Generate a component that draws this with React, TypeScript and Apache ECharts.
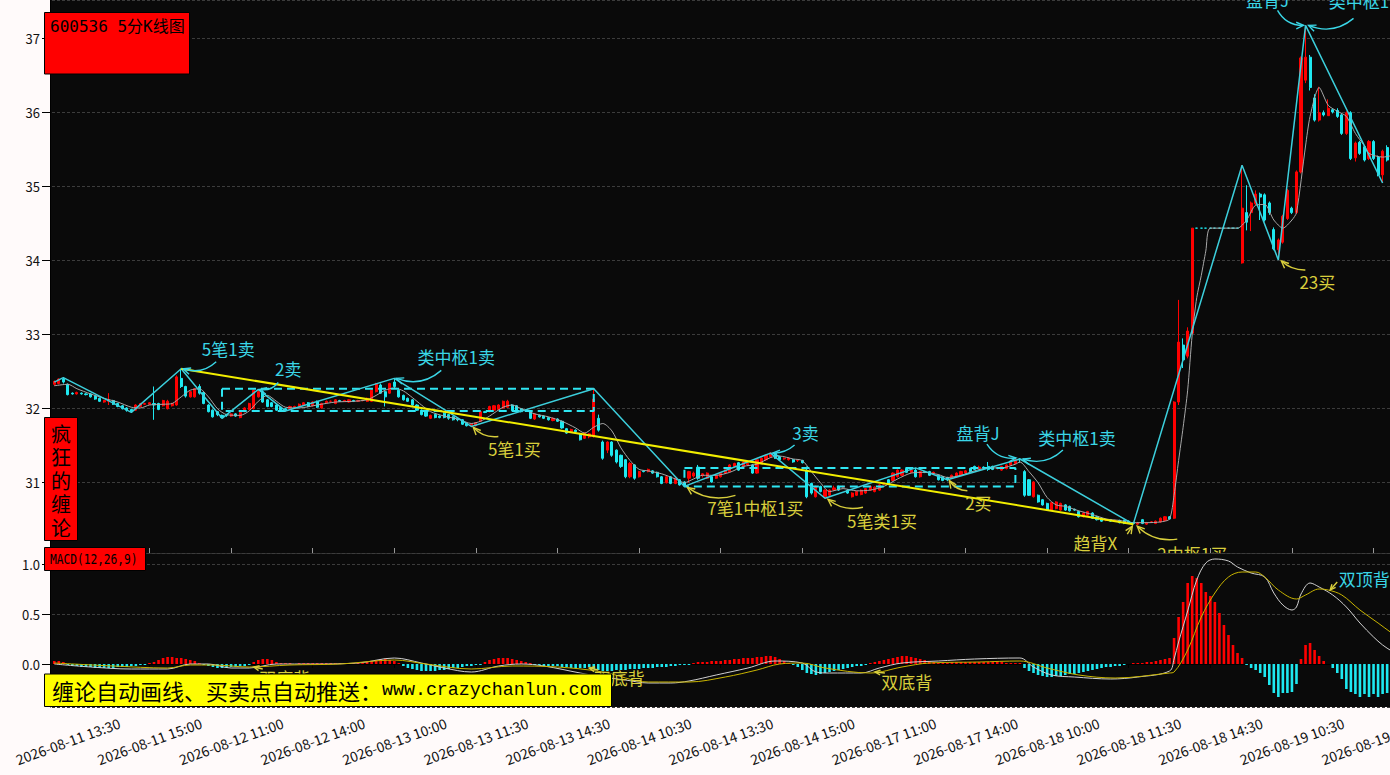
import React, { useEffect, useRef } from "react";
import * as echarts from "echarts";

// ---------------- data ----------------
const DAYS = ["2026-08-11", "2026-08-12", "2026-08-13", "2026-08-14", "2026-08-17", "2026-08-18", "2026-08-19"];
const SESSION = [
  "09:35", "09:40", "09:45", "09:50", "09:55", "10:00", "10:05", "10:10", "10:15", "10:20", "10:25", "10:30",
  "10:35", "10:40", "10:45", "10:50", "10:55", "11:00", "11:05", "11:10", "11:15", "11:20", "11:25", "11:30",
  "13:05", "13:10", "13:15", "13:20", "13:25", "13:30", "13:35", "13:40", "13:45", "13:50", "13:55", "14:00",
  "14:05", "14:10", "14:15", "14:20", "14:25", "14:30", "14:35", "14:40", "14:45", "14:50", "14:55", "15:00",
];
// first day starts at 13:15, last day ends at 14:00
const FIRST_DAY_START = 26;
const LAST_DAY_BARS = 36;

// [open, close, low, high]
const CANDLES: number[][] = [
  // 0
  [32.33, 32.37, 32.31, 32.38], [32.34, 32.40, 32.33, 32.41], [32.40, 32.36, 32.34, 32.42], [32.33, 32.19, 32.18, 32.34], [32.21, 32.20, 32.19, 32.22],
  [32.20, 32.22, 32.19, 32.23], [32.21, 32.20, 32.19, 32.22], [32.20, 32.19, 32.18, 32.21], [32.20, 32.16, 32.15, 32.21], [32.17, 32.13, 32.12, 32.18],
  // 10
  [32.14, 32.10, 32.09, 32.15], [32.09, 32.11, 32.08, 32.12], [32.10, 32.12, 32.05, 32.21], [32.11, 32.06, 32.05, 32.12], [32.07, 32.03, 32.02, 32.08],
  [32.04, 32.00, 31.99, 32.05], [32.01, 31.98, 31.96, 32.02], [31.99, 31.96, 31.95, 32.00], [31.98, 32.05, 31.97, 32.06], [32.03, 32.07, 32.02, 32.08],
  // 20
  [32.06, 32.07, 32.05, 32.08], [32.06, 32.08, 32.05, 32.09], [32.07, 32.05, 31.85, 32.30], [32.07, 31.99, 31.98, 32.08], [32.04, 32.11, 32.03, 32.12],
  [32.00, 32.10, 31.99, 32.12], [32.04, 32.07, 32.03, 32.08], [32.05, 32.43, 32.04, 32.45], [32.41, 32.30, 32.28, 32.54], [32.30, 32.17, 32.15, 32.31],
  // 30
  [32.16, 32.23, 32.15, 32.24], [32.16, 32.27, 32.15, 32.28], [32.30, 32.21, 32.19, 32.33], [32.22, 32.07, 32.06, 32.23], [32.05, 31.96, 31.95, 32.06],
  [31.98, 31.89, 31.88, 31.99], [31.96, 31.92, 31.90, 31.97], [31.91, 31.88, 31.87, 31.92], [31.92, 31.91, 31.89, 31.93], [31.90, 31.93, 31.89, 31.94],
  // 40
  [31.93, 31.90, 31.89, 31.94], [31.88, 31.95, 31.87, 31.96], [31.96, 32.01, 31.95, 32.02], [31.99, 32.07, 31.98, 32.08], [32.00, 32.25, 31.99, 32.26],
  [32.16, 32.23, 32.15, 32.26], [32.23, 32.09, 32.08, 32.25], [32.12, 32.03, 32.02, 32.13], [32.08, 32.03, 32.02, 32.09], [32.05, 31.98, 31.97, 32.06],
  // 50
  [32.02, 31.98, 31.97, 32.03], [32.00, 31.98, 31.97, 32.01], [32.00, 32.03, 31.99, 32.04], [32.02, 32.03, 32.01, 32.04], [32.03, 32.06, 32.02, 32.07],
  [32.05, 32.08, 32.04, 32.09], [32.08, 32.03, 32.02, 32.09], [32.04, 32.09, 32.03, 32.10], [32.10, 32.02, 32.01, 32.11], [32.01, 32.07, 32.00, 32.08],
  // 60
  [32.08, 32.10, 32.07, 32.11], [32.10, 32.10, 32.09, 32.11], [32.07, 32.12, 32.06, 32.13], [32.11, 32.10, 32.09, 32.12], [32.10, 32.11, 32.09, 32.12],
  [32.09, 32.12, 32.08, 32.13], [32.11, 32.10, 32.09, 32.12], [32.10, 32.11, 32.09, 32.12], [32.11, 32.11, 32.10, 32.12], [32.10, 32.14, 32.09, 32.15],
  // 70
  [32.10, 32.25, 32.09, 32.26], [32.23, 32.34, 32.22, 32.35], [32.32, 32.21, 32.20, 32.34], [32.23, 32.16, 32.03, 32.24], [32.21, 32.34, 32.20, 32.35],
  [32.36, 32.30, 32.28, 32.41], [32.25, 32.16, 32.15, 32.26], [32.18, 32.12, 32.11, 32.19], [32.14, 32.10, 32.09, 32.15], [32.12, 32.05, 32.04, 32.13],
  // 80
  [32.05, 31.98, 31.97, 32.06], [31.98, 31.92, 31.91, 31.99], [31.96, 31.90, 31.89, 31.97], [31.87, 31.91, 31.86, 31.92], [31.92, 31.88, 31.87, 31.93],
  [31.90, 31.88, 31.87, 31.91], [31.94, 31.88, 31.87, 31.95], [31.92, 31.87, 31.85, 31.93], [31.89, 31.85, 31.84, 31.90], [31.86, 31.85, 31.83, 31.87],
  // 90
  [31.85, 31.79, 31.78, 31.86], [31.80, 31.77, 31.76, 31.81], [31.77, 31.79, 31.76, 31.80], [31.77, 31.81, 31.76, 31.82], [31.83, 31.96, 31.82, 31.97],
  [31.96, 31.95, 31.94, 31.97], [31.96, 32.03, 31.95, 32.04], [31.98, 32.04, 31.97, 32.05], [31.99, 32.05, 31.98, 32.06], [32.01, 32.10, 32.00, 32.11],
  // 100
  [32.02, 32.10, 32.01, 32.12], [32.05, 31.98, 31.97, 32.06], [32.04, 31.96, 31.95, 32.05], [32.00, 31.96, 31.95, 32.01], [31.98, 31.98, 31.97, 31.99],
  [31.96, 31.87, 31.86, 31.97], [31.86, 31.93, 31.85, 31.94], [31.91, 31.89, 31.88, 31.92], [31.90, 31.87, 31.86, 31.91], [31.88, 31.85, 31.84, 31.89],
  // 110
  [31.84, 31.87, 31.83, 31.88], [31.86, 31.83, 31.82, 31.87], [31.83, 31.74, 31.73, 31.84], [31.73, 31.67, 31.66, 31.74], [31.69, 31.72, 31.68, 31.73],
  [31.71, 31.69, 31.68, 31.72], [31.66, 31.58, 31.57, 31.67], [31.60, 31.67, 31.59, 31.68], [31.62, 31.66, 31.60, 31.67], [31.63, 32.13, 31.61, 32.27],
  // 120
  [31.87, 31.71, 31.69, 31.92], [31.55, 31.33, 31.31, 31.57], [31.44, 31.55, 31.40, 31.56], [31.55, 31.37, 31.35, 31.56], [31.44, 31.28, 31.26, 31.45],
  [31.37, 31.22, 31.20, 31.38], [31.31, 31.08, 31.06, 31.32], [31.08, 31.26, 31.06, 31.28], [31.24, 31.06, 31.04, 31.25], [31.08, 31.15, 31.07, 31.16],
  // 130
  [31.16, 31.15, 31.14, 31.17], [31.15, 31.18, 31.14, 31.19], [31.16, 31.13, 31.12, 31.17], [31.14, 31.08, 31.07, 31.15], [31.08, 30.99, 30.98, 31.09],
  [31.00, 31.08, 30.99, 31.09], [31.08, 30.99, 30.98, 31.09], [30.99, 31.06, 30.98, 31.07], [31.04, 30.97, 30.96, 31.05], [31.01, 30.96, 30.95, 31.02],
  // 140
  [31.06, 31.15, 31.00, 31.16], [31.09, 31.13, 31.07, 31.15], [31.21, 31.06, 31.04, 31.24], [31.10, 31.12, 31.07, 31.13], [31.06, 31.13, 31.05, 31.14],
  [31.08, 31.01, 31.00, 31.09], [31.06, 31.10, 31.05, 31.11], [31.08, 31.13, 31.07, 31.14], [31.13, 31.17, 31.12, 31.18], [31.15, 31.24, 31.14, 31.25],
  // 150
  [31.22, 31.26, 31.21, 31.27], [31.27, 31.17, 31.16, 31.28], [31.22, 31.28, 31.21, 31.29], [31.24, 31.26, 31.23, 31.27], [31.24, 31.13, 31.12, 31.25],
  [31.13, 31.31, 31.12, 31.32], [31.26, 31.33, 31.25, 31.34], [31.31, 31.37, 31.30, 31.38], [31.35, 31.40, 31.34, 31.41], [31.40, 31.33, 31.32, 31.41],
  // 160
  [31.35, 31.31, 31.30, 31.36], [31.32, 31.33, 31.31, 31.34], [31.31, 31.33, 31.30, 31.34], [31.31, 31.28, 31.27, 31.32], [31.30, 31.30, 31.28, 31.31],
  [31.30, 31.27, 31.26, 31.31], [31.17, 30.81, 30.79, 31.22], [30.99, 30.86, 30.84, 31.00], [30.81, 30.95, 30.80, 30.96], [30.95, 30.88, 30.87, 30.96],
  // 170
  [30.81, 30.90, 30.79, 30.91], [30.83, 30.90, 30.82, 30.91], [30.90, 30.93, 30.89, 30.96], [30.95, 30.90, 30.89, 30.96], [30.94, 30.95, 30.93, 30.96],
  [30.90, 30.86, 30.85, 30.91], [30.81, 30.86, 30.80, 30.87], [30.83, 30.88, 30.82, 30.89], [30.84, 30.90, 30.83, 30.91], [30.86, 30.92, 30.85, 30.93],
  // 180
  [30.90, 30.95, 30.89, 30.96], [30.88, 30.94, 30.87, 30.95], [30.90, 30.97, 30.89, 30.98], [30.98, 30.99, 30.97, 31.00], [31.04, 30.99, 30.98, 31.05],
  [31.03, 31.13, 31.02, 31.14], [31.08, 31.17, 31.07, 31.18], [31.10, 31.17, 31.09, 31.18], [31.19, 31.14, 31.13, 31.20], [31.14, 31.17, 31.13, 31.19],
  // 190
  [31.17, 31.08, 31.07, 31.20], [31.08, 31.15, 31.07, 31.16], [31.15, 31.14, 31.13, 31.16], [31.15, 31.10, 31.09, 31.16], [31.13, 31.14, 31.12, 31.15],
  [31.10, 31.04, 31.03, 31.11], [31.08, 31.03, 31.02, 31.09], [31.07, 31.04, 31.02, 31.08], [31.06, 31.10, 31.05, 31.11], [31.08, 31.13, 31.07, 31.14],
  // 200
  [31.10, 31.15, 31.09, 31.16], [31.13, 31.16, 31.12, 31.17], [31.19, 31.15, 31.14, 31.20], [31.22, 31.18, 31.17, 31.23], [31.19, 31.21, 31.18, 31.23],
  [31.21, 31.20, 31.19, 31.22], [31.22, 31.18, 31.16, 31.28], [31.22, 31.18, 31.17, 31.23], [31.19, 31.20, 31.18, 31.21], [31.17, 31.22, 31.16, 31.23],
  // 210
  [31.19, 31.24, 31.18, 31.25], [31.24, 31.28, 31.23, 31.29], [31.26, 31.31, 31.25, 31.32], [31.32, 31.31, 31.27, 31.33], [31.15, 30.83, 30.81, 31.17],
  [31.04, 30.83, 30.82, 31.05], [30.81, 31.01, 30.80, 31.02], [30.83, 30.74, 30.73, 30.84], [30.77, 30.70, 30.69, 30.78], [30.72, 30.63, 30.62, 30.73],
  // 220
  [30.63, 30.73, 30.62, 30.74], [30.65, 30.74, 30.64, 30.75], [30.63, 30.72, 30.62, 30.73], [30.70, 30.63, 30.62, 30.71], [30.68, 30.62, 30.61, 30.69],
  [30.64, 30.63, 30.62, 30.65], [30.61, 30.54, 30.53, 30.62], [30.54, 30.59, 30.53, 30.60], [30.56, 30.61, 30.55, 30.62], [30.59, 30.52, 30.51, 30.60],
  // 230
  [30.54, 30.50, 30.49, 30.55], [30.52, 30.48, 30.47, 30.53], [30.49, 30.50, 30.48, 30.51], [30.50, 30.48, 30.47, 30.51], [30.49, 30.49, 30.48, 30.50],
  [30.49, 30.46, 30.45, 30.50], [30.49, 30.45, 30.44, 30.50], [30.48, 30.45, 30.45, 30.49], [30.46, 30.45, 30.44, 30.47], [30.44, 30.46, 30.43, 30.47],
  // 240
  [30.50, 30.45, 30.44, 30.51], [30.44, 30.46, 30.43, 30.47], [30.47, 30.47, 30.46, 30.48], [30.45, 30.48, 30.44, 30.49], [30.47, 30.52, 30.46, 30.53],
  [30.49, 30.54, 30.48, 30.55], [30.54, 30.51, 30.50, 30.55], [30.52, 32.09, 30.51, 32.10], [32.09, 32.90, 32.05, 33.47], [32.86, 32.66, 32.55, 32.95],
  // 250
  [32.71, 33.05, 32.68, 33.10], [33.02, 34.44, 33.00, 34.44], [34.44, 34.44, 34.44, 34.44], [34.44, 34.44, 34.44, 34.44], [34.44, 34.44, 34.44, 34.44],
  [34.44, 34.44, 34.44, 34.44], [34.44, 34.44, 34.44, 34.44], [34.44, 34.44, 34.44, 34.44], [34.44, 34.44, 34.44, 34.44], [34.44, 34.44, 34.44, 34.44],
  // 260
  [34.44, 34.44, 34.44, 34.44], [34.44, 34.44, 34.44, 34.44], [33.97, 34.71, 33.96, 35.29], [34.65, 34.52, 34.41, 35.02], [34.65, 34.78, 34.40, 34.80],
  [34.77, 34.90, 34.75, 34.95], [34.90, 34.86, 34.55, 34.92], [34.89, 34.55, 34.53, 34.91], [34.78, 34.65, 34.62, 34.80], [34.42, 34.16, 34.14, 34.45],
  // 270
  [34.15, 34.28, 34.01, 34.30], [34.25, 34.60, 34.23, 34.62], [34.57, 34.95, 34.55, 34.97], [34.71, 34.65, 34.63, 34.73], [34.65, 35.20, 34.63, 35.22],
  [35.20, 36.74, 35.18, 36.76], [36.44, 36.75, 36.40, 37.18], [36.75, 36.34, 36.30, 36.78], [36.20, 35.90, 35.88, 36.25], [35.90, 36.00, 35.88, 36.35],
  // 280
  [36.00, 35.97, 35.95, 36.03], [35.96, 36.06, 35.96, 36.18], [36.04, 36.01, 35.99, 36.06], [36.03, 35.95, 35.93, 36.06], [35.97, 35.72, 35.70, 35.99],
  [35.72, 36.00, 35.70, 36.02], [36.00, 35.38, 35.36, 36.02], [35.39, 35.59, 35.34, 35.61], [35.60, 35.45, 35.43, 35.62], [35.54, 35.36, 35.34, 35.56],
  // 290
  [35.38, 35.61, 35.36, 35.63], [35.61, 35.38, 35.36, 35.63], [35.40, 35.16, 35.14, 35.42], [35.16, 35.48, 35.05, 35.50], [35.53, 35.36, 35.34, 35.56],
  [35.38, 35.50, 35.35, 35.52], [35.50, 35.60, 35.45, 35.65], [35.60, 35.55, 35.50, 35.70],
];

// MA5, [bar index, value]
const MA5: number[][] = [
  [0, 32.31], [3, 32.33], [5, 32.27], [8, 32.2], [11, 32.14], [14, 32.09], [17, 32.02], [19, 32.01], [21, 32.05], [24, 32.06],
  [26, 32.07], [28, 32.16], [30, 32.25], [32, 32.27], [34, 32.16], [36, 32.0], [38, 31.92], [41, 31.91], [43, 31.97], [45, 32.1],
  [47, 32.18], [49, 32.1], [51, 32.02], [54, 32.01], [58, 32.05], [62, 32.09], [66, 32.1], [69, 32.12], [71, 32.18], [73, 32.25],
  [75, 32.28], [77, 32.24], [79, 32.15], [81, 32.05], [83, 31.96], [86, 31.9], [89, 31.86], [92, 31.8], [94, 31.83], [96, 31.9],
  [99, 32.02], [101, 32.05], [103, 32.0], [106, 31.93], [109, 31.89], [112, 31.83], [115, 31.74], [117, 31.67], [119, 31.75], [121, 31.8],
  [123, 31.7], [125, 31.47], [127, 31.3], [129, 31.18], [131, 31.16], [134, 31.12], [137, 31.05], [139, 31.0], [141, 31.05], [143, 31.1],
  [146, 31.1], [149, 31.14], [152, 31.22], [155, 31.25], [158, 31.34], [160, 31.36], [163, 31.32], [165, 31.3], [167, 31.15], [169, 31.0],
  [171, 30.88], [174, 30.92], [177, 30.89], [180, 30.9], [183, 30.95], [186, 31.05], [189, 31.13], [192, 31.14], [195, 31.11], [197, 31.07],
  [200, 31.1], [203, 31.16], [206, 31.2], [209, 31.2], [212, 31.25], [213, 31.28], [215, 31.15], [217, 31.0], [219, 30.8], [221, 30.7],
  [223, 30.68], [226, 30.62], [229, 30.57], [232, 30.51], [235, 30.49], [238, 30.46], [241, 30.46], [244, 30.47], [246, 30.51], [247, 30.83],
  [248, 31.3], [249, 31.75], [250, 32.25], [251, 33.0], [252, 33.5], [253, 33.8], [254, 34.13], [255, 34.44], [261, 34.44], [263, 34.55],
  [265, 34.75], [267, 34.76], [269, 34.55], [271, 34.44], [273, 34.55], [274, 34.65], [276, 35.55], [277, 35.95], [279, 36.34], [281, 36.1],
  [283, 36.02], [285, 35.95], [287, 35.72], [289, 35.55], [290, 35.45], [293, 35.4], [295, 35.42], [297, 35.45],
];

// pen (bi) vertices
const PEN: number[][] = [
  [0, 32.36], [2, 32.42], [17, 31.95], [28, 32.54], [37, 31.87], [45, 32.26], [51, 31.97], [75, 32.41], [92, 31.76], [119, 32.27],
  [139, 30.95], [158, 31.4], [170, 30.79], [190, 31.2], [197, 31.04], [213, 31.32], [238, 30.44], [262, 35.29], [270, 34.01], [276, 37.18],
  [293, 35.05],
];
// central zones: [startIdx, endIdx, low, high]
const ZHONGSHU: number[][] = [
  [37, 119, 31.97, 32.27],
  [139, 212, 30.95, 31.2],
];
const TREND: number[][] = [[28, 32.54], [238, 30.44]];

// signals on the price panel: [text, index, price, kind]
const SIGNALS: [string, number, number, string][] = [
  ["5笔1卖", 28, 32.54, "sell"],
  ["2卖", 45, 32.26, "sell"],
  ["类中枢1卖", 75, 32.41, "sell"],
  ["3卖", 158, 31.4, "sell"],
  ["盘背J", 213, 31.32, "sell"],
  ["类中枢1卖", 213, 31.32, "sell"],
  ["盘背J", 276, 37.18, "sell"],
  ["类中枢1卖", 276, 37.18, "sell"],
  ["5笔1买", 92, 31.76, "buy"],
  ["7笔1中枢1买", 139, 30.95, "buy"],
  ["5笔类1买", 170, 30.79, "buy"],
  ["2买", 197, 31.04, "buy"],
  ["趋背X", 238, 30.44, "buy"],
  ["2中枢1买", 238, 30.44, "buy"],
  ["23买", 270, 34.01, "buy"],
];
// signals on MACD panel
const MACD_SIGNALS: [string, number, number, string][] = [
  ["双底背", 44, -0.03, "buy"],
  ["双底背", 118, -0.04, "buy"],
  ["双底背", 181, -0.08, "buy"],
  ["双顶背", 281, 0.74, "sell"],
];

const MACD_HIST: number[] = [
  // 0-2
  0.03, 0.03, 0.02,
  // 3-20
  -0.01, -0.02, -0.02, -0.03, -0.03, -0.03, -0.04, -0.04, -0.04, -0.04, -0.04, -0.03, -0.03, -0.03, -0.02, -0.02, -0.01, -0.01,
  // 21-32
  0.01, 0.02, 0.04, 0.06, 0.07, 0.07, 0.06, 0.06, 0.05, 0.04, 0.03, 0.01,
  // 33-43
  -0.01, -0.02, -0.03, -0.04, -0.04, -0.04, -0.03, -0.03, -0.02, -0.02, -0.01,
  // 44-49
  0.02, 0.04, 0.05, 0.05, 0.04, 0.02,
  // 50-69
  0.01, 0.01, 0.01, 0.0, 0.01, 0.01, 0.01, 0.01, 0.01, 0.01, 0.01, 0.01, 0.01, 0.01, 0.01, 0.01, 0.01, 0.01, 0.01, 0.02,
  // 70-76
  0.03, 0.04, 0.05, 0.05, 0.04, 0.03, 0.01,
  // 77-94
  -0.02, -0.04, -0.05, -0.06, -0.07, -0.07, -0.07, -0.07, -0.06, -0.06, -0.05, -0.04, -0.04, -0.03, -0.02, -0.02, -0.01, -0.01,
  // 95-105
  0.02, 0.04, 0.05, 0.06, 0.06, 0.06, 0.05, 0.04, 0.03, 0.02, 0.01,
  // 106-140
  -0.01, -0.01, -0.02, -0.02, -0.02, -0.02, -0.03, -0.03, -0.04, -0.04, -0.04, -0.04, -0.03, -0.05, -0.06, -0.07, -0.07, -0.07,
  -0.06, -0.06, -0.06, -0.05, -0.05, -0.05, -0.04, -0.04, -0.04, -0.03, -0.03, -0.03, -0.02, -0.02, -0.01, -0.01, -0.01,
  // 141-162
  0.01, 0.02, 0.02, 0.02, 0.03, 0.03, 0.03, 0.04, 0.04, 0.05, 0.05, 0.06, 0.06, 0.06, 0.07, 0.07, 0.08, 0.08, 0.07, 0.05, 0.03, 0.01,
  // 163-179
  -0.01, -0.03, -0.06, -0.09, -0.1, -0.11, -0.1, -0.09, -0.08, -0.07, -0.06, -0.05, -0.04, -0.03, -0.02, -0.02, -0.01,
  // 180-195
  0.01, 0.02, 0.03, 0.04, 0.05, 0.06, 0.07, 0.08, 0.08, 0.07, 0.06, 0.05, 0.04, 0.03, 0.02, 0.01,
  // 196-213
  0.01, 0.01, 0.02, 0.02, 0.02, 0.02, 0.02, 0.02, 0.02, 0.02, 0.02, 0.02, 0.02, 0.02, 0.01, 0.01, 0.01, 0.01,
  // 214-235
  -0.04, -0.07, -0.09, -0.11, -0.12, -0.13, -0.13, -0.12, -0.12, -0.11, -0.1, -0.1, -0.09, -0.08, -0.07, -0.06, -0.05, -0.04,
  -0.03, -0.03, -0.02, -0.02,
  // 236-246
  -0.01, 0.0, 0.01, 0.01, 0.01, 0.02, 0.02, 0.03, 0.04, 0.05, 0.06,
  // 247-262
  0.26, 0.47, 0.62, 0.81, 0.88, 0.86, 0.81, 0.72, 0.68, 0.62, 0.51, 0.39, 0.29, 0.19, 0.11, 0.06,
  // 263-274
  -0.01, -0.04, -0.06, -0.09, -0.13, -0.21, -0.29, -0.33, -0.29, -0.29, -0.28, -0.2,
  // 275-280
  0.05, 0.19, 0.21, 0.14, 0.08, 0.03,
  // 281-297
  0.0, -0.04, -0.09, -0.15, -0.25, -0.28, -0.3, -0.33, -0.3, -0.33, -0.3, -0.33, -0.3, -0.29, -0.31, -0.3, -0.3,
];

const DIF: number[][] = [
  [0, 0.0], [8, -0.03], [17, -0.05], [25, -0.05], [30, 0.0], [34, 0.0], [39, -0.04], [43, -0.04], [49, 0.0], [57, 0.0],
  [67, 0.01], [75, 0.06], [81, 0.01], [86, -0.04], [92, -0.08], [98, -0.02], [103, 0.0], [108, -0.02], [116, -0.09], [121, -0.13],
  [126, -0.16], [131, -0.19], [136, -0.19], [140, -0.17], [146, -0.11], [153, -0.04], [159, 0.03], [165, 0.01], [168, -0.08], [171, -0.09],
  [178, -0.09], [182, -0.04], [187, 0.01], [195, 0.03], [203, 0.05], [213, 0.06], [216, -0.03], [220, -0.11], [225, -0.13], [233, -0.15],
  [239, -0.13], [246, -0.07], [247, 0.05], [248, 0.22], [250, 0.53], [252, 0.84], [254, 1.01], [256, 1.05], [259, 1.03], [261, 0.97],
  [264, 0.91], [267, 0.87], [269, 0.71], [271, 0.59], [273, 0.54], [274, 0.57], [275, 0.7], [277, 0.81], [279, 0.77], [282, 0.69],
  [285, 0.57], [288, 0.41], [291, 0.27], [293, 0.19], [295, 0.13], [297, 0.08],
];
const DEA: number[][] = [
  [0, 0.01], [13, -0.02], [25, -0.04], [30, -0.01], [35, -0.01], [43, -0.03], [52, -0.01], [63, 0.0], [75, 0.04], [82, 0.0],
  [92, -0.05], [101, -0.02], [111, -0.03], [121, -0.08], [131, -0.18], [140, -0.18], [148, -0.13], [155, -0.06], [160, 0.0], [165, 0.01],
  [170, -0.04], [180, -0.09], [187, -0.03], [193, 0.01], [204, 0.02], [213, 0.03], [219, -0.04], [226, -0.11], [234, -0.14], [246, -0.09],
  [247, -0.08], [250, 0.14], [253, 0.47], [256, 0.71], [259, 0.87], [262, 0.92], [265, 0.92], [267, 0.87], [270, 0.74], [274, 0.65],
  [276, 0.69], [279, 0.75], [281, 0.74], [284, 0.69], [288, 0.54], [292, 0.41], [295, 0.31], [297, 0.25],
];

const TITLE = "600536 5分K线图";
const SIDE_TITLE = ["疯", "狂", "的", "缠", "论"];
const MACD_TITLE = "MACD(12,26,9)";
const BANNER_CN = "缠论自动画线、买卖点自动推送：";
const BANNER_URL = "www.crazychanlun.com";

// ---------------- styles ----------------
const UP = "#ff0000";
const DOWN = "#1ee8f0";
const PEN_C = "#3ccfdc";
const ZS_C = "#2ee6f2";
const SELL_C = "#3ad6e6";
const BUY_C = "#d8ce3c";
const TREND_C = "#f2ee00";
const BG = "#0a0a0a";
const PAGE = "#fffafa";
const CJK = '"Noto Sans CJK SC"';

// layout of each signal label relative to its anchor: [textDx, textDy, startDx, startDy, endDx, endDy, rad]
const SIGNAL_LAYOUT: number[][] = [
  [47, -20, 35, -7, 2, 0, -0.3],
  [30, -21, 20, -7, 1, 0, -0.3],
  [62, -22, 47, -8, 2, 0, -0.3],
  [35, -21, 24, -8, 2, 0, -0.2],
  [-42, -27, -33, -15, -4, -1, 0.3],
  [57, -22, 43, -9, 3, 0, -0.3],
  [-38, -26, -28, -15, -2, 0, 0.3],
  [62, -25, 48, -7, 3, 0, -0.3],
  [43, 22, 27, 10, 2, 1, -0.25],
  [71, 21, 51, 9, 3, 1, -0.25],
  [57, 22, 38, 9, 3, 1, -0.25],
  [31, 23, 20, 11, 2, 1, -0.25],
  [-38, 18, -6, 10, -1, 2, 0],
  [59, 29, 44, 15, 4, 2, -0.25],
  [39, 22, 27, 10, 3, 1, -0.2],
];
const MACD_LAYOUT: number[][] = [
  [31, 10, 9, 2, 0, 0, 0],
  [30, 9, 9, 2, 0, 0, 0],
  [32, 9, 10, 1, 0, 0, 0],
  [36, -12, 9, -8, 2, 0, 0],
];

function buildCategories(): string[] {
  const out: string[] = [];
  DAYS.forEach((d, k) => {
    let times = SESSION;
    if (k === 0) times = SESSION.slice(FIRST_DAY_START);
    if (k === DAYS.length - 1) times = SESSION.slice(0, LAST_DAY_BARS);
    times.forEach((t) => out.push(`${d} ${t}`));
  });
  return out;
}

function arrow(sx: number, sy: number, ex: number, ey: number, rad: number, color: string, z: number, head = 8) {
  const dx = ex - sx;
  const dy = ey - sy;
  const cpx = (sx + ex) / 2 - rad * dy;
  const cpy = (sy + ey) / 2 + rad * dx;
  let ux = ex - cpx;
  let uy = ey - cpy;
  const l = Math.hypot(ux, uy) || 1;
  ux /= l;
  uy /= l;
  const a = 0.42;
  const ca = Math.cos(a);
  const sa = Math.sin(a);
  const h1 = [ex - head * (ux * ca - uy * sa), ey - head * (uy * ca + ux * sa)];
  const h2 = [ex - head * (ux * ca + uy * sa), ey - head * (uy * ca - ux * sa)];
  return [
    {
      type: "bezierCurve",
      z,
      shape: { x1: sx, y1: sy, x2: ex, y2: ey, cpx1: cpx, cpy1: cpy },
      style: { stroke: color, lineWidth: 1.4, fill: "none" },
    },
    {
      type: "polyline",
      z,
      shape: { points: [h1, [ex, ey], h2] },
      style: { stroke: color, lineWidth: 1.4, fill: "none" },
    },
  ];
}

function label(x: number, y: number, text: string, color: string, z: number, size = 17) {
  return {
    type: "text",
    z,
    x,
    y,
    style: {
      text,
      fill: color,
      font: `${size}px ${CJK}`,
      align: "center",
      verticalAlign: "middle",
      textAlign: "center",
      textVerticalAlign: "middle",
    },
  };
}

export default function App() {
  const ref = useRef<HTMLDivElement>(null);

  useEffect(() => {
    const el = ref.current;
    if (!el) return;
    const chart = echarts.init(el, null, { renderer: "svg" });
    const cats = buildCategories();
    const N = cats.length;
    const barW = 4.5336;
    const gridLeft = 52;
    const gridW = N * barW;
    const tickEvery = (i: number) => (i - 3) % 18 === 0;

    const candleData = CANDLES.map((c) => {
      if (c[0] === c[1] && c[1] === c[2] && c[2] === c[3]) {
        return {
          value: c,
          itemStyle: { color: DOWN, color0: DOWN, borderColor: DOWN, borderColor0: DOWN },
        };
      }
      return c;
    });

    const zsSeries = ZHONGSHU.map((z) => ({
      type: "line",
      xAxisIndex: 0,
      yAxisIndex: 0,
      z: 3,
      symbol: "none",
      silent: true,
      data: [
        [z[0], z[3]],
        [z[1], z[3]],
        [z[1], z[2]],
        [z[0], z[2]],
        [z[0], z[3]],
      ],
      lineStyle: { color: ZS_C, width: 2, type: [8, 5] },
    }));

    const option: any = {
      animation: false,
      backgroundColor: "transparent",
      grid: [
        { left: gridLeft, top: 0, width: gridW, height: 553, containLabel: false, outerBoundsMode: "none", show: false },
        { left: gridLeft, top: 553, width: gridW, height: 154, containLabel: false, outerBoundsMode: "none", show: false },
      ],
      xAxis: [
        {
          type: "category",
          gridIndex: 0,
          data: cats,
          boundaryGap: true,
          axisLine: { show: true, lineStyle: { color: "#555", width: 1 } },
          axisTick: { show: true, inside: true, length: 5, alignWithLabel: true, interval: tickEvery, lineStyle: { color: "#999" } },
          axisLabel: { show: false },
          splitLine: { show: false },
        },
        {
          type: "category",
          gridIndex: 1,
          data: cats,
          boundaryGap: true,
          z: 7,
          axisLine: { show: true, lineStyle: { color: "#000", width: 1 } },
          axisTick: { show: true, length: 4, alignWithLabel: true, interval: tickEvery, lineStyle: { color: "#000" } },
          axisLabel: {
            show: true,
            interval: tickEvery,
            rotate: 20,
            align: "center",
            verticalAlign: "middle",
            margin: 34,
            fontSize: 14,
            fontFamily: "Noto Sans CJK SC",
            color: "#111",
            hideOverlap: false,
          },
          splitLine: { show: false },
        },
      ],
      yAxis: [
        {
          type: "value",
          gridIndex: 0,
          min: 30.05,
          max: 37.523,
          splitNumber: 7,
          offset: 2,
          axisLine: { show: true, lineStyle: { color: "#000" } },
          axisTick: { show: true, length: 8, lineStyle: { color: "#000" } },
          axisLabel: {
            show: true,
            margin: 10,
            fontSize: 13,
            fontFamily: "Noto Sans CJK SC",
            color: "#111",
            showMinLabel: false,
            showMaxLabel: false,
            formatter: (v: number) => String(Math.round(v)),
          },
          splitLine: { show: true, lineStyle: { color: "#3c3c3c", type: [3, 2], width: 1 } },
        },
        {
          type: "value",
          gridIndex: 1,
          min: -0.43,
          max: 1.11,
          splitNumber: 3,
          offset: 2,
          z: 7,
          axisLine: { show: true, lineStyle: { color: "#000" } },
          axisTick: { show: true, length: 8, lineStyle: { color: "#000" } },
          axisLabel: {
            show: true,
            margin: 10,
            fontSize: 13,
            fontFamily: "Noto Sans CJK SC",
            color: "#111",
            showMinLabel: false,
            showMaxLabel: false,
            formatter: (v: number) => v.toFixed(1),
          },
          splitLine: { show: true, lineStyle: { color: "#3c3c3c", type: [3, 2], width: 1 } },
        },
      ],
      series: [
        {
          type: "candlestick",
          xAxisIndex: 0,
          yAxisIndex: 0,
          z: 2,
          barWidth: 2.6,
          data: candleData,
          itemStyle: { color: UP, color0: DOWN, borderColor: UP, borderColor0: DOWN, borderWidth: 1 },
        },
        {
          type: "line",
          xAxisIndex: 0,
          yAxisIndex: 0,
          z: 3,
          symbol: "none",
          smooth: 0.25,
          data: MA5,
          lineStyle: { color: "#a8a8a8", width: 1 },
        },
        ...zsSeries,
        {
          type: "line",
          xAxisIndex: 0,
          yAxisIndex: 0,
          z: 3,
          symbol: "none",
          data: PEN,
          lineStyle: { color: PEN_C, width: 1.5 },
        },
        {
          type: "line",
          xAxisIndex: 0,
          yAxisIndex: 0,
          z: 4,
          symbol: "none",
          data: TREND,
          lineStyle: { color: TREND_C, width: 2 },
        },
        {
          type: "bar",
          xAxisIndex: 1,
          yAxisIndex: 1,
          z: 8,
          barWidth: 2.6,
          data: MACD_HIST.map((v) => ({ value: v, itemStyle: { color: v >= 0 ? UP : DOWN } })),
        },
        {
          type: "line",
          xAxisIndex: 1,
          yAxisIndex: 1,
          z: 8,
          symbol: "none",
          smooth: 0.35,
          data: DIF,
          lineStyle: { color: "#d0d0d0", width: 1 },
        },
        {
          type: "line",
          xAxisIndex: 1,
          yAxisIndex: 1,
          z: 8,
          symbol: "none",
          smooth: 0.35,
          data: DEA,
          lineStyle: { color: "#c8b400", width: 1 },
        },
      ],
    };

    chart.setOption(option);

    const p0 = (x: number, y: number) => chart.convertToPixel({ gridIndex: 0 }, [x, y]) as number[];
    const p1 = (x: number, y: number) => chart.convertToPixel({ gridIndex: 1 }, [x, y]) as number[];

    const els: any[] = [];
    // backgrounds
    els.push({ type: "rect", z: -1, shape: { x: 50, y: 0, width: 1360, height: 553 }, style: { fill: BG } });
    els.push({ type: "rect", z: 6, shape: { x: 50, y: 553.5, width: 1360, height: 153.5 }, style: { fill: BG } });

    SIGNALS.forEach((s, i) => {
      const [text, idx, price, kind] = s;
      const L = SIGNAL_LAYOUT[i];
      const [ax, ay] = p0(idx, price);
      const col = kind === "sell" ? SELL_C : BUY_C;
      els.push(...arrow(ax + L[2], ay + L[3], ax + L[4], ay + L[5], L[6], col, 5));
      els.push(label(ax + L[0], ay + L[1], text, col, 5));
    });

    MACD_SIGNALS.forEach((s, i) => {
      const [text, idx, v, kind] = s;
      const L = MACD_LAYOUT[i];
      const [ax, ay] = p1(idx, v);
      const col = kind === "sell" ? SELL_C : BUY_C;
      els.push(...arrow(ax + L[2], ay + L[3], ax + L[4], ay + L[5], L[6], BUY_C, 9, 6));
      els.push(label(ax + L[0], ay + L[1], text, col, 9));
    });

    // caption boxes
    els.push({ type: "rect", z: 20, shape: { x: 44.5, y: 12.5, width: 145, height: 61.5 }, style: { fill: "#ff0000", stroke: "#000", lineWidth: 1 } });
    els.push({
      type: "text",
      z: 21,
      x: 50,
      y: 26,
      style: {
        text: TITLE,
        fill: "#000",
        font: `16px "DejaVu Sans Mono", ${CJK}`,
        align: "left",
        verticalAlign: "middle",
        textAlign: "left",
        textVerticalAlign: "middle",
      },
    });
    els.push({ type: "rect", z: 20, shape: { x: 44.5, y: 417.5, width: 33, height: 123 }, style: { fill: "#ff0000", stroke: "#000", lineWidth: 1 } });
    SIDE_TITLE.forEach((ch, k) => {
      els.push({
        type: "text",
        z: 21,
        x: 61,
        y: 433 + k * 23.5,
        style: {
          text: ch,
          fill: "#000",
          font: `20px ${CJK}`,
          lineHeight: 21,
          align: "center",
          verticalAlign: "middle",
          textAlign: "center",
          textVerticalAlign: "middle",
        },
      });
    });
    els.push({ type: "rect", z: 20, shape: { x: 44.5, y: 547.5, width: 101, height: 23 }, style: { fill: "#ff0000", stroke: "#000", lineWidth: 1 } });
    els.push({
      type: "text",
      z: 21,
      x: 50,
      y: 559,
      scaleY: 1.3,
      style: {
        text: MACD_TITLE,
        fill: "#000",
        font: '11.2px "DejaVu Sans Mono"',
        align: "left",
        verticalAlign: "middle",
        textAlign: "left",
        textVerticalAlign: "middle",
      },
    });
    els.push({ type: "rect", z: 20, shape: { x: 44.5, y: 674, width: 567, height: 32.5 }, style: { fill: "#ffff00", stroke: "#000", lineWidth: 1 } });
    els.push({
      type: "text",
      z: 21,
      x: 52,
      y: 690,
      style: {
        text: `{a|${BANNER_CN}}{b|${BANNER_URL}}`,
        fill: "#000",
        align: "left",
        verticalAlign: "middle",
        textAlign: "left",
        textVerticalAlign: "middle",
        rich: {
          a: { fill: "#000", fontSize: 22, fontFamily: "Noto Sans CJK SC" },
          b: { fill: "#000", fontSize: 18.3, fontFamily: "Liberation Mono" },
        },
      },
    });

    chart.setOption({ graphic: { elements: els } });

    return () => {
      chart.dispose();
    };
  }, []);

  return (
    <div
      style={{
        position: "fixed",
        left: 0,
        top: 0,
        width: 1390,
        height: 775,
        overflow: "hidden",
        background: PAGE,
      }}
    >
      <div ref={ref} style={{ width: 1410, height: 775 }} />
    </div>
  );
}
